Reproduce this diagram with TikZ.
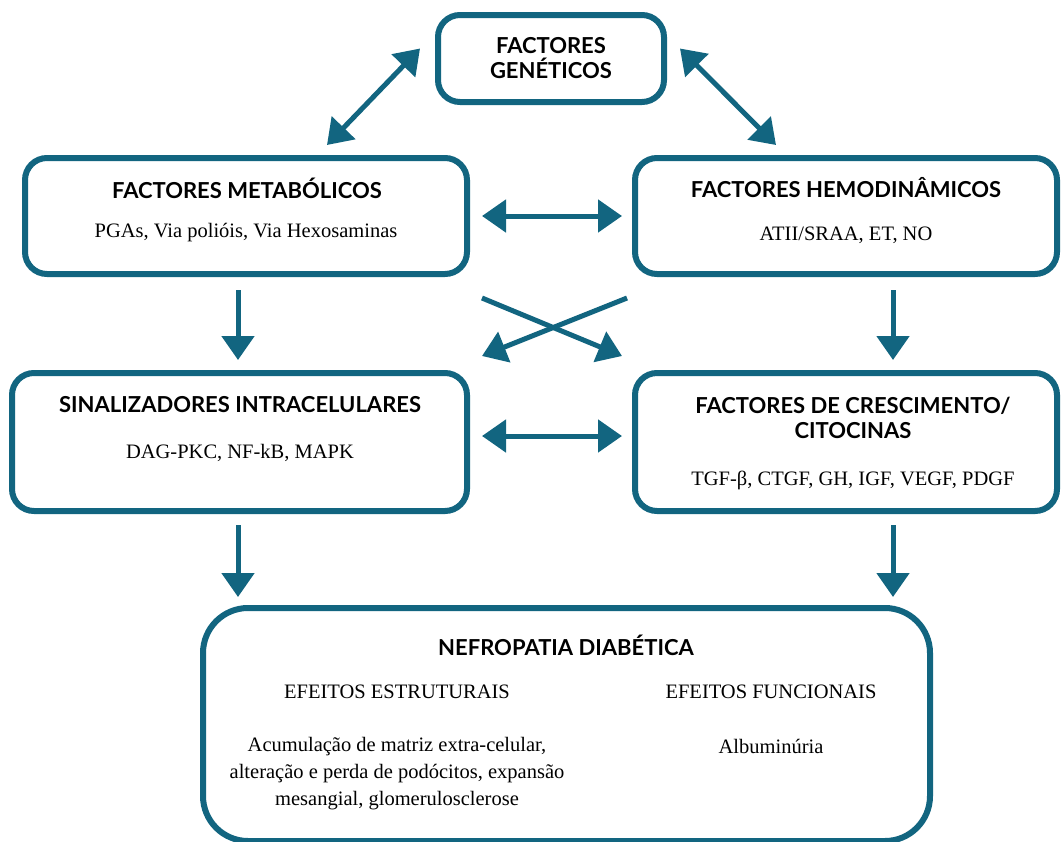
\documentclass[tikz,border=0pt]{standalone}
\usepackage{fontspec}
\setmainfont{Liberation Serif}
\newfontfamily\hdfont{Lato}
\usetikzlibrary{arrows.meta}
\definecolor{teal1}{RGB}{18,101,128}
\tikzset{
  box/.style={draw=teal1, line width=6pt, rounded corners=22pt, fill=white, inner sep=0pt},
  hd/.style={font=\hdfont\bfseries\fontsize{22}{25}\selectfont, align=center, inner sep=0pt},
  bd/.style={font=\fontsize{20.5}{27}\selectfont, align=center, inner sep=0pt},
  arr/.style={draw=teal1, line width=5pt, -{Triangle[width=32pt,length=24pt]}},
  darr/.style={draw=teal1, line width=5pt, {Triangle[width=32pt,length=24pt]}-{Triangle[width=32pt,length=24pt]}},
}
\begin{document}
\begin{tikzpicture}[x=1pt,y=-1pt]
\useasboundingbox (0,0) rectangle (1062,841);
% boxes
\node[box, minimum width=226pt, minimum height=87pt] (gen) at (551,58.5) {};
\node[box, minimum width=442pt, minimum height=116pt] (met) at (246,216) {};
\node[box, minimum width=422pt, minimum height=116pt] (hem) at (846,216) {};
\node[box, minimum width=455pt, minimum height=138pt] (sin) at (239.5,442) {};
\node[box, minimum width=422pt, minimum height=138pt] (cre) at (846,442) {};
\node[box, rounded corners=45pt, minimum width=727pt, minimum height=233pt] (nef) at (566.5,724.5) {};
% texts
\node[hd] (genT) at (551,58.5) {FACTORES\\GENÉTICOS};
\node[hd] (metT) at (247,188) {FACTORES METABÓLICOS};
\node[bd] (metB) at (246,233) {PGAs, Via polióis, Via Hexosaminas};
\node[hd] (hemT) at (846,188) {FACTORES HEMODINÂMICOS};
\node[bd] (hemB) at (846,235) {ATII/SRAA, ET, NO};
\node[hd] (sinT) at (240,405) {SINALIZADORES INTRACELULARES};
\node[bd] (sinB) at (240,453) {DAG-PKC, NF-kB, MAPK};
\node[hd] (creT) at (853,417.5) {FACTORES DE CRESCIMENTO/\\CITOCINAS};
\node[bd] (creB) at (853,480) {TGF-β, CTGF, GH, IGF, VEGF, PDGF};
\node[hd] (nefT) at (566,645) {NEFROPATIA DIABÉTICA};
\node[bd] (nefE) at (397,692) {EFEITOS ESTRUTURAIS};
\node[bd] (nefF) at (771,692) {EFEITOS FUNCIONAIS};
\node[bd] (nefEB) at (397,774) {Acumulação de matriz extra-celular,\\alteração e perda de podócitos, expansão\\mesangial, glomerulosclerose};
\node[bd] (nefFB) at (771,746) {Albuminúria};
% arrows
\draw[darr] ([shift={(-15,-10)}]gen.west) -- ([shift={(81,-10)}]met.north);
\draw[darr] ([shift={(13,-10)}]gen.east) -- ([shift={(-70,-10)}]hem.north);
\draw[darr] ([shift={(12,0)}]met.east) -- ([shift={(-10,0)}]hem.west);
\draw[darr] ([shift={(12,-6)}]sin.east) -- ([shift={(-10,-6)}]cre.west);
\draw[arr] ([shift={(-8,13)}]met.south) -- ([shift={(-1.5,-10)}]sin.north);
\draw[arr] ([shift={(47,13)}]hem.south) -- ([shift={(47,-10)}]cre.north);
\draw[arr] ([shift={(-1.5,11)}]sin.south) -- ([shift={(38,-8)}]nef.north west);
\draw[arr] ([shift={(47,11)}]cre.south) -- ([shift={(-40,-8)}]nef.north east);
\draw[arr] ([shift={(12,21)}]met.south east) -- ([shift={(-10,-14)}]cre.north west);
\draw[arr] ([shift={(-5,21)}]hem.south west) -- ([shift={(12,-14)}]sin.north east);
\end{tikzpicture}
\end{document}
